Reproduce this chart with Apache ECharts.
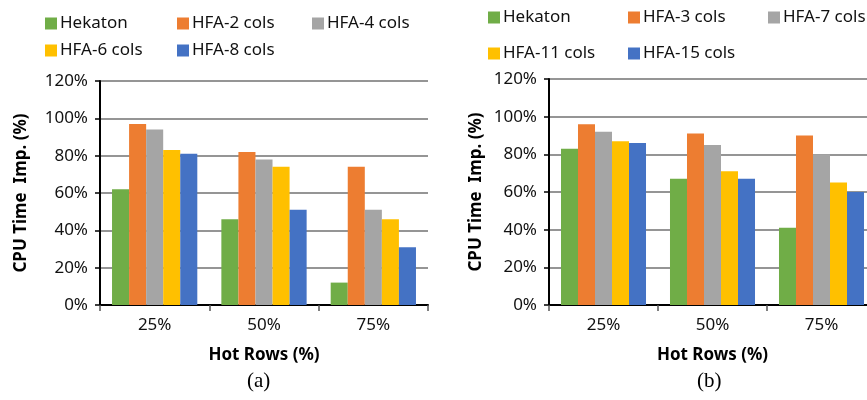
<!DOCTYPE html>
<html>
<head>
<meta charset="utf-8">
<script src="https://cdn.jsdelivr.net/npm/echarts@6/dist/echarts.min.js"></script>
<style>
  html, body { margin: 0; padding: 0; background: #fff; }
  #chart { width: 867px; height: 400px; }
</style>
</head>
<body>
<div id="chart"></div>
<script>
// categories (hot rows)
const categories = ['25%', '50%', '75%']
const yTicks = [0, 20, 40, 60, 80, 100, 120]

// chart (a)
const namesA = ['Hekaton', 'HFA-2 cols', 'HFA-4 cols', 'HFA-6 cols', 'HFA-8 cols']
const hekatonA = [62, 46, 12]
const hfa2 = [97, 82, 74]
const hfa4 = [94, 78, 51]
const hfa6 = [83, 74, 46]
const hfa8 = [81, 51, 31]

// chart (b)
const namesB = ['Hekaton', 'HFA-3 cols', 'HFA-7 cols', 'HFA-11 cols', 'HFA-15 cols']
const hekatonB = [83, 67, 41]
const hfa3 = [96, 91, 90]
const hfa7 = [92, 85, 80]
const hfa11 = [87, 71, 65]
const hfa15 = [86, 67, 60]

const colors = ['#70AD47', '#ED7D31', '#A5A5A5', '#FFC000', '#4472C4']
const font = 'Noto Sans'

const seriesA = [hekatonA, hfa2, hfa4, hfa6, hfa8]
const seriesB = [hekatonB, hfa3, hfa7, hfa11, hfa15]

function makeSeries(names, values, idx) {
  return names.map((n, i) => ({
    name: n,
    type: 'bar',
    xAxisIndex: idx,
    yAxisIndex: idx,
    barGap: '0%',
    barCategoryGap: '22%',
    itemStyle: { color: colors[i] },
    data: values[i]
  }))
}

function makeX(idx) {
  return {
    type: 'category',
    gridIndex: idx,
    data: categories,
    name: 'Hot Rows (%)',
    nameLocation: 'middle',
    nameGap: 42,
    nameTextStyle: { fontFamily: font, fontSize: 17, fontWeight: 'bold', color: '#000' },
    axisLine: { lineStyle: { color: '#000', width: 2 } },
    axisTick: { show: true, length: 6, lineStyle: { color: '#555', width: 1.5 } },
    axisLabel: { fontFamily: font, fontSize: 17, color: '#111', margin: 12 }
  }
}

function makeY(idx, gap) {
  return {
    type: 'value',
    gridIndex: idx,
    min: yTicks[0],
    max: yTicks[yTicks.length - 1],
    interval: 20,
    name: 'CPU Time  Imp. (%)',
    nameLocation: 'middle',
    nameGap: gap,
    nameTextStyle: { fontFamily: font, fontSize: 17, fontWeight: 'bold', color: '#000' },
    axisLine: { show: true, lineStyle: { color: '#000', width: 2 } },
    axisTick: { show: true, length: 5, lineStyle: { color: '#000', width: 1.5 } },
    axisLabel: { fontFamily: font, fontSize: 17, color: '#111', margin: 12, formatter: v => v + '%' },
    splitLine: { lineStyle: { color: '#959595', width: 2 } }
  }
}

function legendItem(name, left, top) {
  return {
    data: [name],
    left: left,
    top: top,
    icon: 'rect',
    itemWidth: 12,
    itemHeight: 12,
    itemGap: 0,
    padding: 0,
    textStyle: { fontFamily: font, fontSize: 17, color: '#111', padding: [0, 0, 0, -2] }
  }
}

const legendPosA = [[45, 15], [177, 15], [312, 15], [45, 42], [177, 42]]
const legendPosB = [[488, 9], [628, 9], [768, 9], [488, 45], [628, 45]]

const chart = echarts.init(document.getElementById('chart'))
chart.setOption({
  animation: false,
  backgroundColor: '#fff',
  grid: [
    { left: 100, width: 328, top: 81, bottom: 95, outerBoundsMode: 'none' },
    { left: 549, width: 327, top: 79, bottom: 95, outerBoundsMode: 'none' }
  ],
  legend: [
    ...namesA.map((n, i) => legendItem(n, legendPosA[i][0], legendPosA[i][1])),
    ...namesB.slice(1).map((n, i) => legendItem(n, legendPosB[i + 1][0], legendPosB[i + 1][1])),
    legendItem('Hekaton', legendPosB[0][0], legendPosB[0][1])
  ],
  title: [
    { text: '(a)', left: 247, top: 371, padding: 0, textStyle: { fontFamily: 'Liberation Serif', fontSize: 21, fontWeight: 'normal', color: '#000' } },
    { text: '(b)', left: 697, top: 371, padding: 0, textStyle: { fontFamily: 'Liberation Serif', fontSize: 21, fontWeight: 'normal', color: '#000' } }
  ],
  xAxis: [makeX(0), makeX(1)],
  yAxis: [makeY(0, 70), makeY(1, 64)],
  series: [...makeSeries(namesA, seriesA, 0), ...makeSeries(namesB, seriesB, 1)]
})
</script>
</body>
</html>
